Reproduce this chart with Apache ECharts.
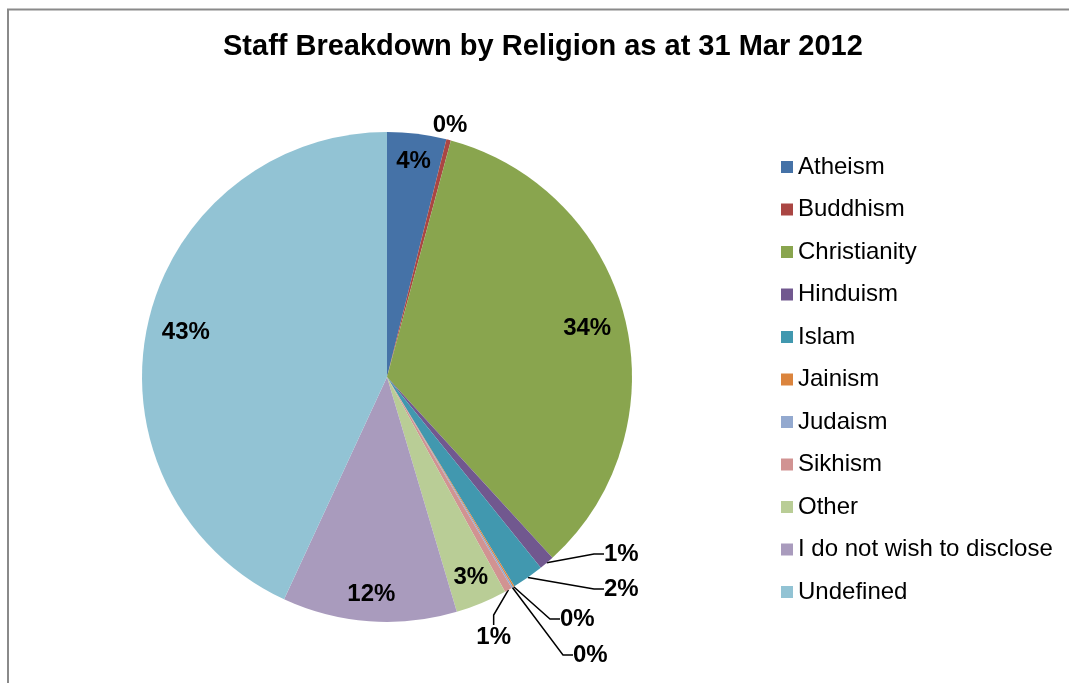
<!DOCTYPE html>
<html>
<head>
<meta charset="utf-8">
<title>Staff Breakdown by Religion as at 31 Mar 2012</title>
<script src="https://cdn.jsdelivr.net/npm/echarts@6/dist/echarts.min.js"></script>
<style>
  html, body { margin: 0; padding: 0; background: #fff; }
  #chart { width: 1069px; height: 683px; }
</style>
</head>
<body>
<div id="chart"></div>
<script>
// Religion categories, in clockwise order from 12 o'clock
const religions = [
  'Atheism', 'Buddhism', 'Christianity', 'Hinduism', 'Islam', 'Jainism',
  'Judaism', 'Sikhism', 'Other', 'I do not wish to disclose', 'Undefined'
];
// Share of staff, percent
const shares = [3.9, 0.3, 34.0, 1.0, 2.1, 0.1, 0.1, 0.5, 3.4, 11.5, 43.1];

// Slice colours
const palette = [
  '#4572A7', '#AA4643', '#89A54E', '#71588F', '#4198AF', '#DB843D',
  '#93A9CF', '#D19392', '#B9CD96', '#A99BBD', '#92C3D4'
];

// Slices whose percentage sits on the slice itself, split by how far out the text sits
const insideNear = ['Christianity', 'Undefined'];
const insideFar = ['Atheism', 'Other', 'I do not wish to disclose'];

// Placement of the call-out labels for the thin slices
const callouts = {
  'Buddhism': { x: 450, y: 125, align: 'center', line: false },
  'Hinduism': { x: 604, y: 554, align: 'left', line: true },
  'Islam':    { x: 604, y: 589, align: 'left', line: true },
  'Jainism':  { x: 560, y: 619, align: 'left', line: true },
  'Judaism':  { x: 573, y: 655, align: 'left', line: true },
  'Sikhism':  { x: 511, y: 637, align: 'right', line: true }
};

const FONT = '"Liberation Sans", Arial, sans-serif';
const CENTER = [387, 377];
const RADIUS = 245;

const pctLabel = p => Math.round(p.value) + '%';

const labelText = {
  formatter: pctLabel,
  fontFamily: FONT,
  fontSize: 24,
  fontWeight: 'bold',
  color: '#000'
};

const mainData = religions.map((name, i) => ({
  name,
  value: shares[i],
  itemStyle: { color: palette[i] },
  label: { show: !!callouts[name] },
  labelLine: { show: !!(callouts[name] && callouts[name].line) }
}));

// Transparent ring carrying the on-slice percentages for a subset of slices
function labelRing(innerRadius, names) {
  return {
    type: 'pie',
    center: CENTER,
    radius: [innerRadius, RADIUS],
    startAngle: 90,
    clockwise: true,
    silent: true,
    avoidLabelOverlap: false,
    itemStyle: { color: 'rgba(0,0,0,0)' },
    emphasis: { disabled: true },
    data: religions.map((name, i) => ({
      name,
      value: shares[i],
      label: { show: names.indexOf(name) >= 0 }
    })),
    label: Object.assign({ position: 'inside' }, labelText),
    labelLine: { show: false }
  };
}

const chart = echarts.init(document.getElementById('chart'), null, { renderer: 'canvas' });

chart.setOption({
  animation: false,
  backgroundColor: '#ffffff',
  title: {
    text: 'Staff Breakdown by Religion as at 31 Mar 2012',
    left: 223,
    top: 32,
    padding: 0,
    textStyle: { fontFamily: FONT, fontSize: 29, fontWeight: 'bold', color: '#000' }
  },
  legend: {
    orient: 'vertical',
    left: 781,
    top: 155,
    padding: 0,
    icon: 'rect',
    itemWidth: 12,
    itemHeight: 12,
    itemGap: 18.5,
    selectedMode: false,
    data: religions,
    textStyle: { fontFamily: FONT, fontSize: 24, color: '#000', lineHeight: 24 }
  },
  graphic: [{
    type: 'rect',
    shape: { x: 8, y: 9.5, width: 1200, height: 800 },
    style: { fill: 'none', stroke: '#8a8a8a', lineWidth: 2 },
    silent: true,
    z: -1
  }],
  series: [
    {
      type: 'pie',
      center: CENTER,
      radius: [0, RADIUS],
      startAngle: 90,
      clockwise: true,
      avoidLabelOverlap: false,
      silent: true,
      data: mainData,
      label: Object.assign({ position: 'outside' }, labelText),
      labelLine: {
        length: 10,
        length2: 10,
        lineStyle: { color: '#000', width: 1.5 }
      },
      labelLayout: function (params) {
        const c = callouts[religions[params.dataIndex]];
        if (!c) return {};
        return { x: c.x, y: c.y, align: c.align, verticalAlign: 'middle' };
      }
    },
    labelRing(161, insideNear),
    labelRing(184, insideFar)
  ]
});
</script>
</body>
</html>
